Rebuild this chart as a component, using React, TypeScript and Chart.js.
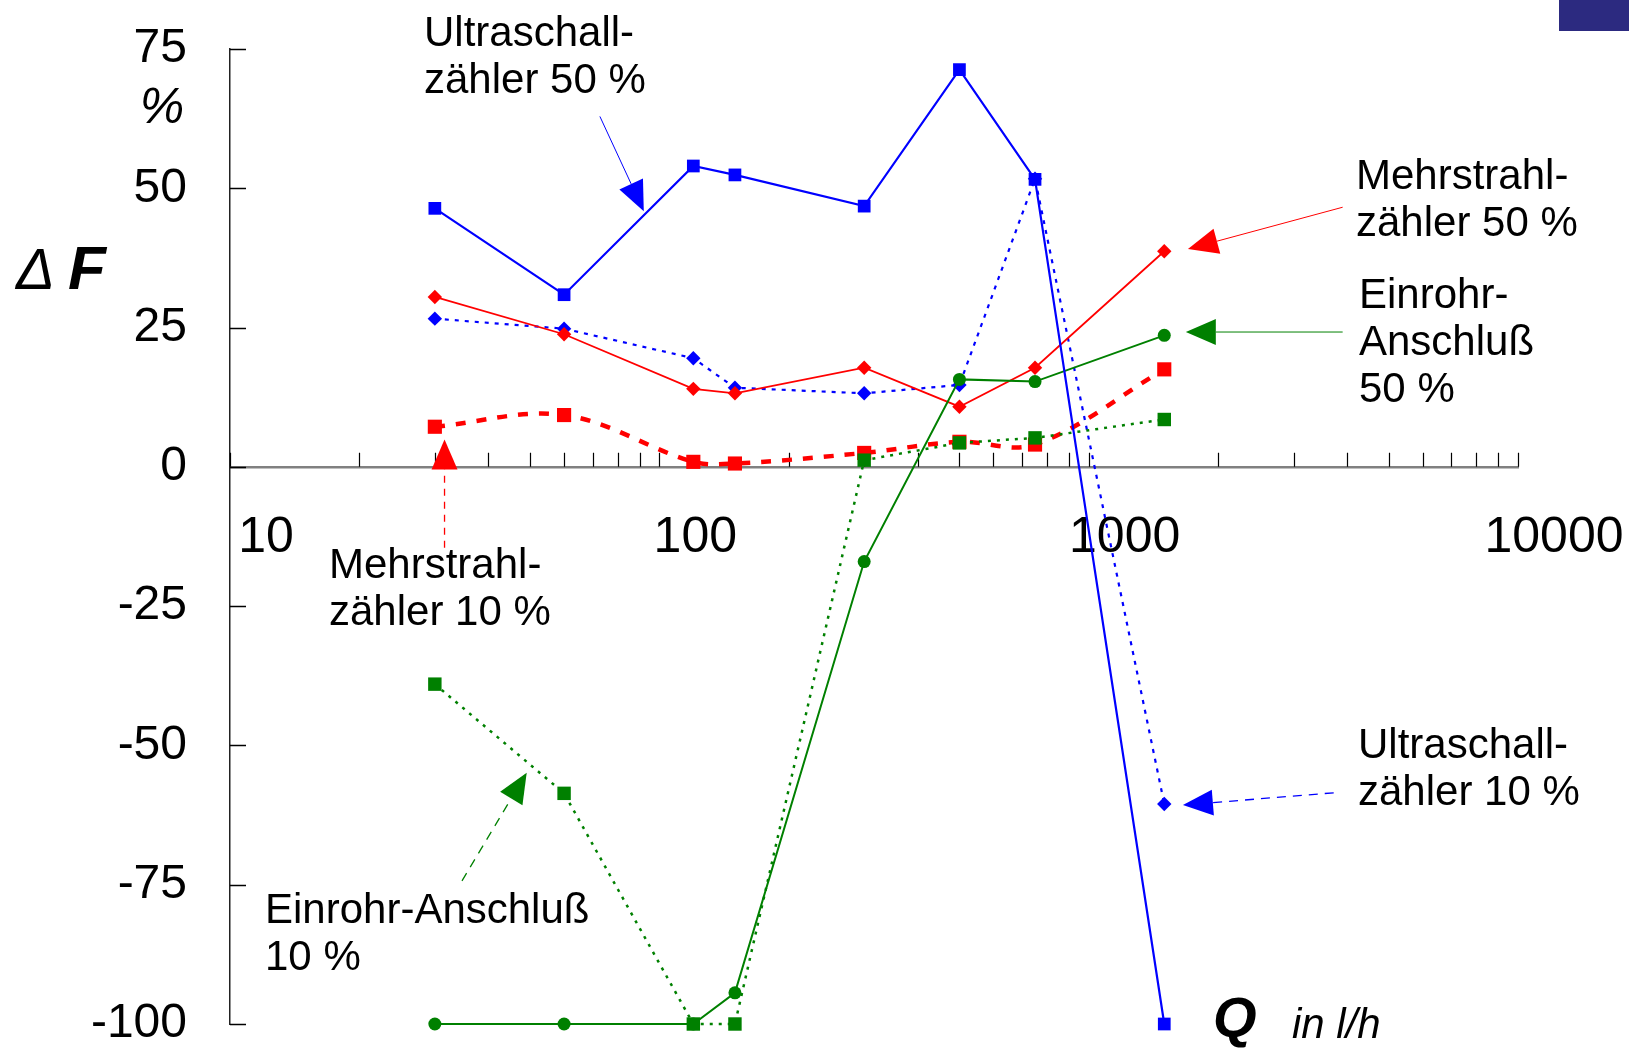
import React, { useEffect, useRef } from "react";
import { Chart, registerables } from "chart.js";

Chart.register(...registerables);

// ---------- data ----------
const flowRates = [30, 60, 120, 150, 300, 500, 750, 1500];
const ultraschall50 = [46.4, 30.9, 54.0, 52.4, 46.8, 71.3, 51.6, -100];
const ultraschall10 = [26.6, 24.8, 19.5, 14.2, 13.2, 14.7, 51.7, -60.5];
const mehrstrahl50 = [30.5, 23.8, 14.0, 13.2, 17.8, 10.8, 17.8, 38.7];
const mehrstrahl10 = [7.2, 9.3, 0.9, 0.6, 2.5, 4.5, 4.0, 17.5];
const einrohr50 = [-100, -100, -100, -94.4, -17.0, 15.7, 15.3, 23.6];
const einrohr10 = [-39.0, -58.6, -100, -100, 1.2, 4.3, 5.2, 8.5];

const xTickLabels = [10, 100, 1000, 10000];
const yTickValues = [75, 50, 25, 0, -25, -50, -75, -100];

const BLUE = "#0000ff";
const RED = "#ff0000";
const GREEN = "#008000";
const FONT = '"Liberation Sans", Arial, Helvetica, sans-serif';

// annotation labels (text in pixels, arrows in data coordinates)
const annotations = [
  { lines: ["Ultraschall-", "zähler 50 %"], tx: 424, ty: 34, color: BLUE, from: [72.7, 62.9], to: [92.0, 45.9], dash: [] as number[], lw: 1 },
  { lines: ["Mehrstrahl-", "zähler 50 %"], tx: 1356, ty: 177, color: RED, from: [3905, 46.6], to: [1703, 39.1], dash: [] as number[], lw: 1 },
  { lines: ["Einrohr-", "Anschluß", "50 %"], tx: 1359, ty: 296, color: GREEN, from: [3905, 24.2], to: [1684, 24.2], dash: [] as number[], lw: 1 },
  { lines: ["Mehrstrahl-", "zähler 10 %"], tx: 329, ty: 566, color: RED, from: [31.6, -14.5], to: [31.6, 4.9], dash: [7, 6], lw: 1.3 },
  { lines: ["Ultraschall-", "zähler 10 %"], tx: 1358, ty: 746, color: BLUE, from: [3722, -58.5], to: [1658, -60.7], dash: [9, 7], lw: 1.3 },
  { lines: ["Einrohr-Anschluß", "10 %"], tx: 265, ty: 911, color: GREEN, from: [34.7, -74.3], to: [49.1, -54.9], dash: [9, 7], lw: 1.3 },
];

function drawArrow(ctx: CanvasRenderingContext2D, x1: number, y1: number, x2: number, y2: number, color: string, dash: number[], lw: number) {
  const ang = Math.atan2(y2 - y1, x2 - x1);
  const headLen = 30;
  const headW = 13;
  const bx = x2 - headLen * Math.cos(ang);
  const by = y2 - headLen * Math.sin(ang);
  ctx.save();
  ctx.strokeStyle = color;
  ctx.lineWidth = lw;
  ctx.setLineDash(dash);
  ctx.beginPath();
  ctx.moveTo(x1, y1);
  ctx.lineTo(bx, by);
  ctx.stroke();
  ctx.setLineDash([]);
  ctx.fillStyle = color;
  ctx.beginPath();
  ctx.moveTo(x2, y2);
  ctx.lineTo(bx + headW * Math.sin(ang), by - headW * Math.cos(ang));
  ctx.lineTo(bx - headW * Math.sin(ang), by + headW * Math.cos(ang));
  ctx.closePath();
  ctx.fill();
  ctx.restore();
}

const decorPlugin = {
  id: "decor",
  beforeDatasetsDraw(chart: any) {
    const ctx: CanvasRenderingContext2D = chart.ctx;
    const xs = chart.scales.x;
    const ys = chart.scales.y;
    const y0 = ys.getPixelForValue(0);
    ctx.save();
    ctx.strokeStyle = "#000";
    ctx.lineWidth = 1.2;
    ctx.beginPath();
    for (let d = 10; d < 10000; d *= 10) {
      for (let m = 1; m <= 9; m++) {
        const px = Math.round(xs.getPixelForValue(m * d)) + 0.5;
        ctx.moveTo(px, y0);
        ctx.lineTo(px, y0 - 14);
      }
    }
    const pEnd = Math.round(xs.getPixelForValue(10000)) + 0.5;
    ctx.moveTo(pEnd, y0);
    ctx.lineTo(pEnd, y0 - 14);
    ctx.stroke();
    ctx.beginPath();
    ctx.lineWidth = 1.5;
    ys.ticks.forEach((t: any) => {
      const py = Math.round(ys.getPixelForValue(t.value)) + 0.5;
      ctx.moveTo(xs.left, py);
      ctx.lineTo(xs.left + 16, py);
    });
    ctx.stroke();
    ctx.restore();
  },
  afterDraw(chart: any) {
    const ctx: CanvasRenderingContext2D = chart.ctx;
    const xs = chart.scales.x;
    const ys = chart.scales.y;
    ctx.save();
    // arrows
    annotations.forEach((a) => {
      drawArrow(
        ctx,
        xs.getPixelForValue(a.from[0]), ys.getPixelForValue(a.from[1]),
        xs.getPixelForValue(a.to[0]), ys.getPixelForValue(a.to[1]),
        a.color, a.dash, a.lw
      );
    });
    // annotation texts
    ctx.fillStyle = "#000";
    ctx.font = `42px ${FONT}`;
    ctx.textAlign = "left";
    ctx.textBaseline = "middle";
    annotations.forEach((a) => {
      a.lines.forEach((ln, i) => ctx.fillText(ln, a.tx, a.ty + i * 47));
    });
    // axis titles
    ctx.textBaseline = "alphabetic";
    ctx.font = `italic 58px ${FONT}`;
    ctx.fillText("Δ", 16, 289);
    ctx.font = `italic bold 62px ${FONT}`;
    ctx.fillText("F", 68, 289);
    ctx.font = `italic 50px ${FONT}`;
    ctx.textAlign = "center";
    ctx.textBaseline = "middle";
    ctx.fillText("%", 162, 109);
    ctx.textAlign = "left";
    ctx.textBaseline = "alphabetic";
    ctx.font = `italic bold 56px ${FONT}`;
    ctx.fillText("Q", 1213, 1036);
    ctx.font = `italic 42px ${FONT}`;
    ctx.fillText("in l/h", 1292, 1038);
    // corner block
    ctx.fillStyle = "#2c2a80";
    ctx.fillRect(1559, 0, 70, 31);
    ctx.restore();
  },
};

function pts(values: number[]) {
  return flowRates.map((q, i) => ({ x: q, y: values[i] }));
}

export default function App() {
  const canvasRef = useRef<HTMLCanvasElement | null>(null);

  useEffect(() => {
    if (!canvasRef.current) return;
    const chart = new Chart(canvasRef.current, {
      type: "line",
      data: {
        datasets: [
          {
            label: "Ultraschallzähler 50 %",
            data: pts(ultraschall50),
            borderColor: BLUE,
            backgroundColor: BLUE,
            borderWidth: 2.2,
            pointStyle: "rect",
            pointRadius: 9,
            pointBorderWidth: 0,
            pointBackgroundColor: BLUE,
            tension: 0,
            clip: false,
          },
          {
            label: "Einrohr-Anschluß 10 %",
            data: pts(einrohr10),
            borderColor: GREEN,
            backgroundColor: GREEN,
            borderWidth: 2.5,
            borderDash: [3, 6],
            pointStyle: "rect",
            pointRadius: 9.5,
            pointBorderWidth: 0,
            pointBackgroundColor: GREEN,
            tension: 0,
            clip: false,
          },
          {
            label: "Einrohr-Anschluß 50 %",
            data: pts(einrohr50),
            borderColor: GREEN,
            backgroundColor: GREEN,
            borderWidth: 2,
            pointStyle: "circle",
            pointRadius: 6.5,
            pointBorderWidth: 0,
            pointBackgroundColor: GREEN,
            tension: 0,
            clip: false,
          },
          {
            label: "Mehrstrahlzähler 10 %",
            data: pts(mehrstrahl10),
            borderColor: RED,
            backgroundColor: RED,
            borderWidth: 4.5,
            borderDash: [10, 11],
            pointStyle: "rect",
            pointRadius: 10,
            pointBorderWidth: 0,
            pointBackgroundColor: RED,
            tension: 0.35,
            clip: false,
          },
          {
            label: "Mehrstrahlzähler 50 %",
            data: pts(mehrstrahl50),
            borderColor: RED,
            backgroundColor: RED,
            borderWidth: 1.8,
            pointStyle: "rectRot",
            pointRadius: 7.2,
            pointBorderWidth: 0,
            pointBackgroundColor: RED,
            tension: 0,
            clip: false,
          },
          {
            label: "Ultraschallzähler 10 %",
            data: pts(ultraschall10),
            borderColor: BLUE,
            backgroundColor: BLUE,
            borderWidth: 2.2,
            borderDash: [4, 6],
            pointStyle: "rectRot",
            pointRadius: 7.2,
            pointBorderWidth: 0,
            pointBackgroundColor: BLUE,
            tension: 0,
            clip: false,
          },
        ],
      },
      options: {
        responsive: false,
        animation: false,
        devicePixelRatio: 1,
        events: [],
        layout: { padding: { left: 0, right: 111, top: 49, bottom: 30 } },
        plugins: {
          legend: { display: false },
          tooltip: { enabled: false },
          title: { display: false },
        },
        scales: {
          x: {
            type: "logarithmic",
            min: 10,
            max: 10000,
            position: { y: 0 } as any,
            afterBuildTicks: (s: any) => {
              s.ticks = xTickLabels.map((v) => ({ value: v }));
            },
            afterFit: (s: any) => {
              s.height = 0;
              s.paddingLeft = 0;
              s.paddingRight = 0;
              s.paddingTop = 0;
              s.paddingBottom = 0;
            },
            grid: { display: false, drawTicks: false, drawOnChartArea: false, lineWidth: 1 },
            border: { display: true, color: "#808080", width: 2.5 },
            ticks: {
              autoSkip: false,
              maxRotation: 0,
              minRotation: 0,
              padding: 41,
              labelOffset: 36,
              color: "#000",
              font: { family: FONT, size: 50 },
              callback: (v: any) => String(v),
            },
          },
          y: {
            type: "linear",
            min: -100,
            max: 75,
            position: "left",
            afterFit: (s: any) => {
              s.width = 230;
              s.paddingTop = 0;
              s.paddingBottom = 0;
              s.paddingLeft = 0;
              s.paddingRight = 0;
            },
            afterBuildTicks: (s: any) => {
              s.ticks = yTickValues.map((v) => ({ value: v }));
            },
            grid: { display: false, drawTicks: false, drawOnChartArea: false },
            border: { display: true, color: "#222", width: 1.5 },
            ticks: {
              autoSkip: false,
              padding: 43,
              color: "#000",
              font: { family: FONT, size: 48 },
              callback: (v: any) => String(v),
            },
          },
        },
      } as any,
      plugins: [decorPlugin],
    });
    return () => chart.destroy();
  }, []);

  return (
    <div style={{ position: "fixed", left: 0, top: 0, width: 1629, height: 1054, background: "#fff" }}>
      <canvas ref={canvasRef} width={1629} height={1054} style={{ display: "block", width: 1629, height: 1054 }} />
    </div>
  );
}
